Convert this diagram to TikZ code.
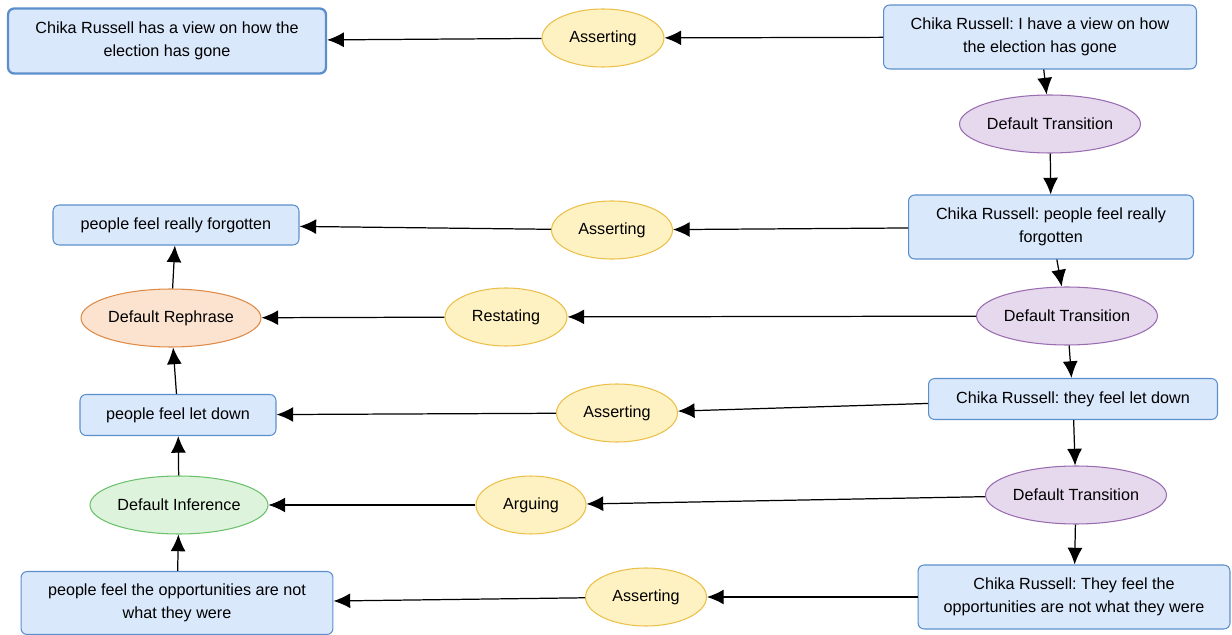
\documentclass[tikz,border=0pt]{standalone}
\usepackage{fontspec}
\setmainfont{Liberation Sans}
\usetikzlibrary{shapes, arrows.meta}
\definecolor{boxfill}{HTML}{DAE8FC}
\definecolor{boxline}{HTML}{5B8FCB}
\definecolor{ilfill}{HTML}{FFF2C2}
\definecolor{illine}{HTML}{EBC04A}
\definecolor{trfill}{HTML}{E6D9EE}
\definecolor{trline}{HTML}{9A6DB0}
\definecolor{rpfill}{HTML}{FBE3D0}
\definecolor{rpline}{HTML}{DE8A46}
\definecolor{inffill}{HTML}{DDF3DC}
\definecolor{infline}{HTML}{6CC26C}
\frenchspacing

\begin{document}
\begin{tikzpicture}[x=0.02cm, y=-0.02cm, font=\fontsize{9.2}{13}\selectfont,
  claim/.style={draw=boxline, fill=boxfill, rounded corners=3.5pt, line width=0.6pt, align=center, inner sep=0pt},
  oval/.style={ellipse, line width=0.6pt, inner sep=0pt, minimum height=1.16cm},
  speech/.style={oval, draw=illine, fill=ilfill},
  trans/.style={oval, draw=trline, fill=trfill, minimum width=3.62cm},
  arr/.style={-{Latex[length=9.5pt,width=8.5pt]}, line width=0.7pt}]
\useasboundingbox (0,0) rectangle (1232,635);
% Left column
\node[claim, line width=1.3pt, minimum width=6.36cm, minimum height=1.3cm] (l1) at (167,41) {Chika Russell has a view on how the\\election has gone};
\node[claim, minimum width=4.92cm, minimum height=0.8cm] (l2) at (176,225) {people feel really forgotten};
\node[oval, draw=rpline, fill=rpfill, minimum width=3.6cm] (rp) at (171,318) {Default Rephrase};
\node[claim, minimum width=3.92cm, minimum height=0.82cm] (l3) at (178,415) {people feel let down};
\node[oval, draw=infline, fill=inffill, minimum width=3.56cm] (inf) at (179,505) {Default Inference};
\node[claim, minimum width=6.24cm, minimum height=1.26cm] (l4) at (177,603) {people feel the opportunities are not\\what they were};
% Middle column
\node[speech, minimum width=2.44cm] (as1) at (603,38) {Asserting};
\node[speech, minimum width=2.42cm] (as2) at (612,230) {Asserting};
\node[speech, minimum width=2.44cm] (rs) at (506,317) {Restating};
\node[speech, minimum width=2.42cm] (as3) at (617,413) {Asserting};
\node[speech, minimum width=2.2cm] (ag) at (531,505) {Arguing};
\node[speech, minimum width=2.42cm] (as4) at (646,597) {Asserting};
% Right column
\node[claim, minimum width=6.26cm, minimum height=1.28cm] (r1) at (1040,37) {Chika Russell: I have a view on how\\the election has gone};
\node[trans] (t1) at (1050,124) {Default Transition};
\node[claim, minimum width=5.7cm, minimum height=1.28cm] (r2) at (1051,227) {Chika Russell: people feel really\\forgotten};
\node[trans] (t2) at (1067,316) {Default Transition};
\node[claim, minimum width=5.78cm, minimum height=0.82cm] (r3) at (1073,399) {Chika Russell: they feel let down};
\node[trans] (t3) at (1076,495) {Default Transition};
\node[claim, minimum width=6.24cm, minimum height=1.28cm] (r4) at (1074,597) {Chika Russell: They feel the\\opportunities are not what they were};
% Right-hand chain
\draw[arr] (r1) -- (t1);
\draw[arr] (t1) -- (r2);
\draw[arr] (r2) -- (t2);
\draw[arr] (t2) -- (r3);
\draw[arr] (r3) -- (t3);
\draw[arr] (t3) -- (r4);
% Across
\draw[arr] (r1) -- (as1);
\draw[arr] (as1) -- (l1);
\draw[arr] (r2) -- (as2);
\draw[arr] (as2) -- (l2);
\draw[arr] (t2) -- (rs);
\draw[arr] (rs) -- (rp);
\draw[arr] (r3) -- (as3);
\draw[arr] (as3) -- (l3);
\draw[arr] (t3) -- (ag);
\draw[arr] (ag) -- (inf);
\draw[arr] (r4) -- (as4);
\draw[arr] (as4) -- (l4);
% Left-hand chain
\draw[arr] (l4) -- (inf);
\draw[arr] (inf) -- (l3);
\draw[arr] (l3) -- (rp);
\draw[arr] (rp) -- (l2);
\end{tikzpicture}
\end{document}
